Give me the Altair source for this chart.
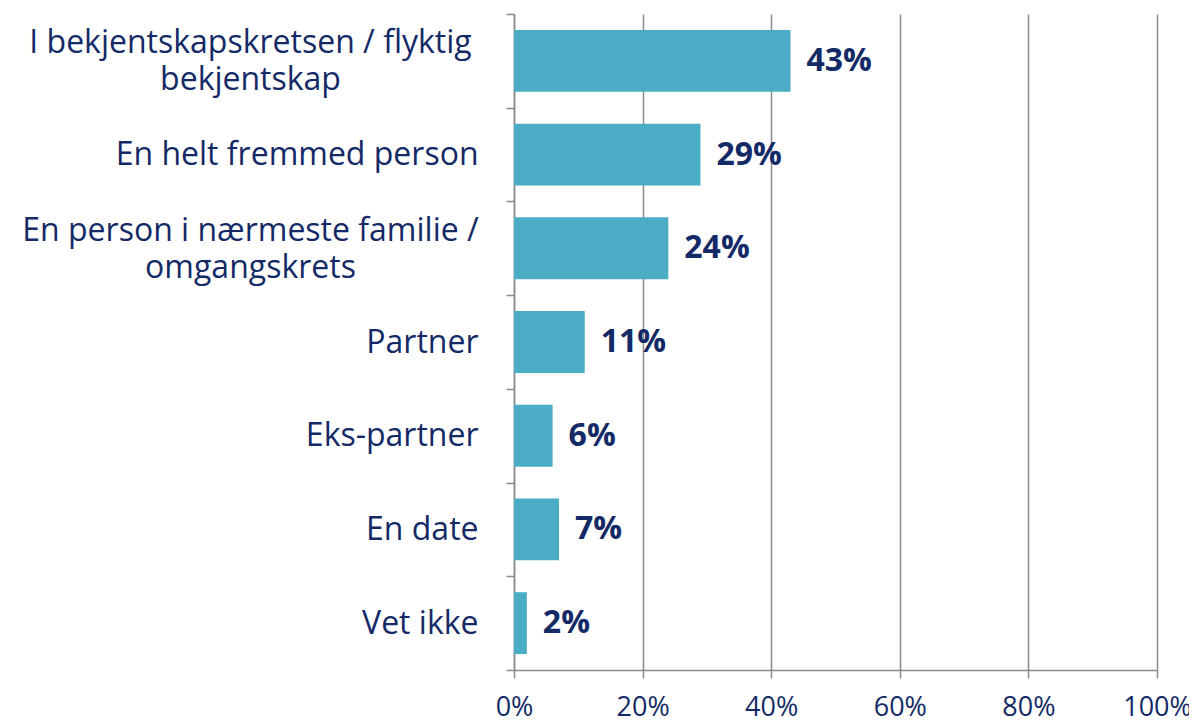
import altair as alt
import pandas as pd

categories = [
    "I bekjentskapskretsen / flyktig bekjentskap",
    "En helt fremmed person",
    "En person i nærmeste familie / omgangskrets",
    "Partner",
    "Eks-partner",
    "En date",
    "Vet ikke",
]
values = [43, 29, 24, 11, 6, 7, 2]
x_ticks = [0, 20, 40, 60, 80, 100]

df = pd.DataFrame({"cat": categories, "val": values})
df["label"] = df["val"].astype(str) + "%"

FONT = "Open Sans"
NAVY = "#142a66"
GRID = "#8a8a8a"

MULTI = (
    "datum.value == 'I bekjentskapskretsen / flyktig bekjentskap' || "
    "datum.value == 'En person i nærmeste familie / omgangskrets'"
)
label_expr = (
    "datum.value == 'I bekjentskapskretsen / flyktig bekjentskap' ? "
    "['I bekjentskapskretsen / flyktig', 'bekjentskap'] : "
    "datum.value == 'En person i nærmeste familie / omgangskrets' ? "
    "['En person i nærmeste familie /', 'omgangskrets'] : datum.value"
)

y_enc = alt.Y(
    "cat:N",
    sort=categories,
    title=None,
    scale=alt.Scale(paddingInner=0, paddingOuter=0),
    axis=alt.Axis(
        labelExpr=label_expr,
        labelFont=FONT,
        labelFontSize=32,
        labelColor=NAVY,
        labelAlign={"condition": {"test": MULTI, "value": "center"}, "value": "right"},
        labelPadding={"condition": {"test": MULTI, "value": 256}, "value": 28},
        labelOffset={"condition": {"test": MULTI, "value": -18}, "value": 0},
        labelLineHeight=37,
        labelLimit=600,
        domainColor=GRID,
        domainWidth=1.5,
        tickColor=GRID,
        tickWidth=1.5,
        tickSize=8,
        tickBand="extent",
        grid=False,
    ),
)

x_enc = alt.X(
    "val:Q",
    title=None,
    scale=alt.Scale(domain=[0, 100], nice=False),
    axis=alt.Axis(
        values=x_ticks,
        labelExpr="datum.value + '%'",
        labelFont=FONT,
        labelFontSize=27,
        labelColor=NAVY,
        labelPadding=16,
        labelFlush=False,
        labelOverlap=False,
        domainColor=GRID,
        domainWidth=1.5,
        tickColor=GRID,
        tickWidth=1.5,
        tickSize=8,
        grid=True,
        gridColor=GRID,
        gridWidth=1.5,
    ),
)

bars = alt.Chart(df).mark_bar(
    color="#4bacc6", height=alt.RelativeBandSize(band=0.66)
).encode(x=x_enc, y=y_enc)

text = alt.Chart(df).mark_text(
    align="left", baseline="middle", dx=16, font=FONT, fontSize=32,
    fontWeight="bold", color=NAVY
).encode(x="val:Q", y=alt.Y("cat:N", sort=categories), text="label:N")

chart = (bars + text).properties(
    width=643, height=656,
    autosize=alt.AutoSizeParams(type="none"),
    padding={"left": 506, "top": 6, "right": 32, "bottom": 57},
).configure_view(stroke=None)

chart.save("out.html", embed_options={"renderer": "svg", "actions": False})
